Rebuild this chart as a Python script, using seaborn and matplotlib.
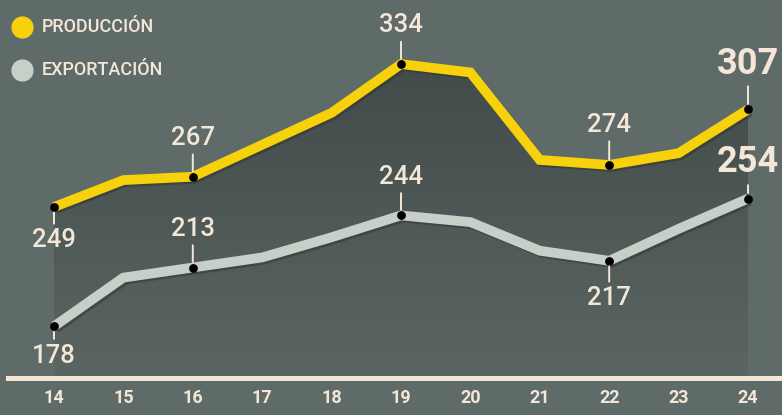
#Produccion vs exportacion, line chart with gradient area

import numpy as np
import pandas as pd
import matplotlib.pyplot as plt
import seaborn as sns
from matplotlib.colors import LinearSegmentedColormap
from matplotlib.patches import Polygon
import matplotlib.patheffects as pe

years = [14, 15, 16, 17, 18, 19, 20, 21, 22, 23, 24]
produccion = [249, 265, 267, 286, 305, 334, 329, 277, 274, 281, 307]
exportacion = [178, 207, 213, 219, 231, 244, 240, 223, 217, 236, 254]

series_names = ['PRODUCCIÓN', 'EXPORTACIÓN']
series_colors = ['#f6d10c', '#c6cfc8']

# labelled points: (year, value, offset in points, big)
prod_labels = [(14, 249, -24, False), (16, 267, 28, False), (19, 334, 28, False),
               (22, 274, 29, False), (24, 307, 33, True)]
expo_labels = [(14, 178, -21, False), (16, 213, 28, False), (19, 244, 28, False),
               (22, 217, -27, False), (24, 254, 26, True)]

bg = '#5e6b68'
cream = '#f4e7d7'

sns.set_style('white')
plt.rcParams['font.family'] = ['Roboto', 'DejaVu Sans']

df = pd.DataFrame({
    'year': years * 2,
    'value': produccion + exportacion,
    'serie': [series_names[0]] * len(years) + [series_names[1]] * len(years),
})

fig = plt.figure(figsize=(7.82, 4.15), dpi=100, facecolor=bg)
ax = fig.add_axes([8 / 782, 37 / 415, 774 / 782, 378 / 415])
ax.set_facecolor(bg)

x_left = 14 - 46 / 69.4
x_right = 24 + 34 / 69.4
y_bottom = 147.3
y_top = 372.1
ax.set_xlim(x_left, x_right)
ax.set_ylim(y_bottom, y_top)

# gradient area under the production line
cmap = LinearSegmentedColormap.from_list('area', ['#5b6663', '#424b49'])
grad = np.linspace(0, 1, 256).reshape(-1, 1)
img = ax.imshow(grad, cmap=cmap, origin='lower', aspect='auto',
                extent=[14, 24, y_bottom, max(produccion)], zorder=1)
verts = list(zip(years, produccion)) + [(24, y_bottom), (14, y_bottom)]
poly = Polygon(verts, closed=True, transform=ax.transData)
img.set_clip_path(poly)

shadow = [pe.SimpleLineShadow(offset=(1.5, -1.5), shadow_color='#2d3432', alpha=0.5), pe.Normal()]
sns.lineplot(data=df, x='year', y='value', hue='serie', palette=series_colors,
             hue_order=series_names, linewidth=7, legend=False, ax=ax, zorder=3)
for line in ax.get_lines():
    line.set_solid_joinstyle('miter')
    line.set_solid_capstyle('butt')
    line.set_path_effects(shadow)

for labels in [prod_labels, expo_labels]:
    for yr, val, off, big in labels:
        ax.scatter([yr], [val], s=40, color='black', zorder=5, linewidths=0)
        ax.annotate(str(val), xy=(yr, val), xytext=(0, off), textcoords='offset points',
                    ha='center', va='center', color=cream,
                    fontsize=26 if big else 18.5, fontweight='bold' if big else 'medium',
                    arrowprops=dict(arrowstyle='-', color=cream, lw=1.4,
                                    shrinkA=1, shrinkB=4),
                    zorder=6, annotation_clip=False)

# legend drawn by hand
for i, (name, col) in enumerate(zip(series_names, series_colors)):
    yy = 1 - (27 + 43 * i) / 415
    ax.plot([22 / 782], [yy], 'o', ms=15, color=col, transform=fig.transFigure,
            clip_on=False, zorder=6)
    fig.text(42 / 782, yy, name, color=cream, fontsize=13, fontweight='medium',
             va='center', ha='left')

for s in ['top', 'right', 'left']:
    ax.spines[s].set_visible(False)
ax.spines['bottom'].set_color(cream)
ax.spines['bottom'].set_linewidth(3.6)
ax.set_xticks(years)
ax.set_xticklabels([str(y) for y in years], color=cream, fontsize=13, fontweight='bold')
ax.tick_params(axis='x', length=0, pad=8)
ax.set_yticks([])
ax.set_xlabel('')
ax.set_ylabel('')

fig.savefig('out.png', dpi=100, facecolor=bg)
